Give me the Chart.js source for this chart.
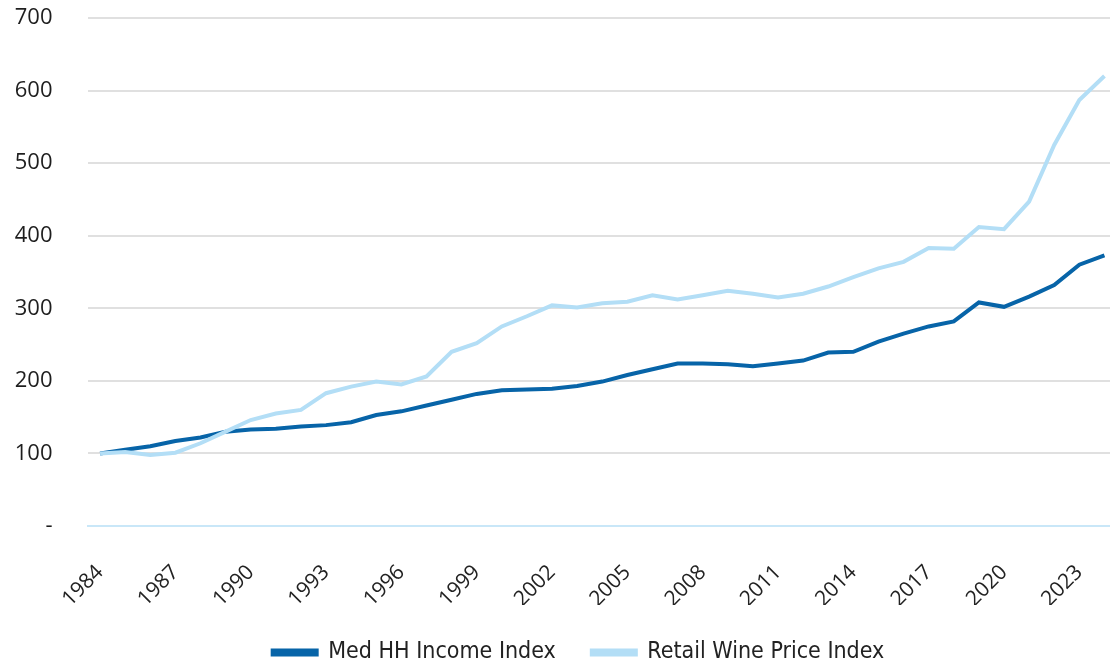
<!DOCTYPE html>
<html>
<head>
<meta charset="utf-8">
<title>Income vs wine prices</title>
<script src="https://cdn.jsdelivr.net/npm/chart.js@4.4.1/dist/chart.umd.min.js"></script>
<style>
    body { margin: 0; background: #fff; overflow: hidden; }
    #wrap { width: 1117px; height: 664px; }
</style>
</head>
<body>
<div id="wrap"><canvas id="index-chart"></canvas></div>
<script>
// index values, 1984 = 100
let years = [];
for (let y = 1984; y <= 2024; y++) years.push(String(y));

let tickYears = ["1984", "1987", "1990", "1993", "1996", "1999", "2002", "2005",
    "2008", "2011", "2014", "2017", "2020", "2023"];

let incomeIndex = [100, 105, 110, 117, 122, 130, 133, 134, 137, 139,
    143, 153, 158, 166, 174, 182, 187, 188, 189, 193,
    199, 208, 216, 224, 224, 223, 220, 224, 228, 239,
    240, 254, 265, 275, 282, 308, 302, 316, 332, 360, 373];

let wineIndex = [100, 102, 98, 101, 114, 130, 146, 155, 160, 183,
    192, 199, 195, 206, 240, 252, 275, 289, 304, 301,
    307, 309, 318, 312, 318, 324, 320, 315, 320, 330,
    343, 355, 364, 383, 382, 412, 409, 447, 525, 587, 620];

const darkBlue = "#0764a8";
const lightBlue = "#b3def6";
const tickFont = "'Open Sans', 'Noto Sans', sans-serif";
const legendFont = "'Liberation Sans Narrow', 'DejaVu Sans Condensed', 'Open Sans', sans-serif";

// nudge the legend a bit right of the canvas centre
const legendShift = {
    id: "legendShift",
    afterLayout(chart) {
        chart.legend.left += 20;
        chart.legend.right += 20;
    }
};

let indexChart;
window.onload = function () {
    drawChart();
};

function drawChart() {
    indexChart = new Chart("index-chart", {
        type: "line",
        data: {
            labels: years,
            datasets: [{
                label: "Med HH Income Index",
                data: incomeIndex,
                borderColor: darkBlue,
                backgroundColor: darkBlue,
                borderWidth: 4,
                pointRadius: 0,
                tension: 0,
                order: 1
            }, {
                label: "Retail Wine Price Index",
                data: wineIndex,
                borderColor: lightBlue,
                backgroundColor: lightBlue,
                borderWidth: 4,
                pointRadius: 0,
                tension: 0,
                order: 0  // light line sits on top
            }]
        },
        plugins: [legendShift],
        options: {
            responsive: true,
            maintainAspectRatio: false,
            animation: false,
            layout: { padding: { top: 18, right: 0, bottom: -10, left: 0 } },
            plugins: {
                tooltip: { enabled: false },
                legend: {
                    position: "bottom",
                    labels: {
                        sort: (a, b) => a.datasetIndex - b.datasetIndex,
                        boxWidth: 44,
                        boxHeight: 4,
                        padding: 36,
                        color: "#222",
                        font: { family: legendFont, size: 23 }
                    }
                }
            },
            scales: {
                x: {
                    offset: true,
                    grid: { display: false },
                    border: { color: "#c9e7f8", width: 2 },
                    ticks: {
                        autoSkip: false,
                        maxRotation: 45,
                        minRotation: 45,
                        padding: 26,
                        color: "#222",
                        font: { family: tickFont, size: 21 },
                        callback: function (value) {
                            let lbl = this.getLabelForValue(value);
                            return tickYears.includes(lbl) ? lbl : "";
                        }
                    },
                    afterFit: function (scale) {
                        // tall enough that the rotated years are not clipped
                        scale.height = 79;
                        scale.paddingLeft = 0;
                        scale.paddingRight = 0;
                    }
                },
                y: {
                    min: 0,
                    max: 700,
                    grid: { color: "#e0e0e0", lineWidth: 2, drawTicks: false },
                    border: { display: false },
                    ticks: {
                        stepSize: 100,
                        padding: 35,
                        color: "#1e1e1e",
                        font: { family: tickFont, size: 22 },
                        callback: (v) => v === 0 ? "-" : v
                    },
                    afterFit: function (scale) {
                        scale.width = 87.5;
                        scale.paddingTop = 0;
                        scale.paddingBottom = 0;
                    }
                }
            }
        }
    });
}
</script>
</body>
</html>
